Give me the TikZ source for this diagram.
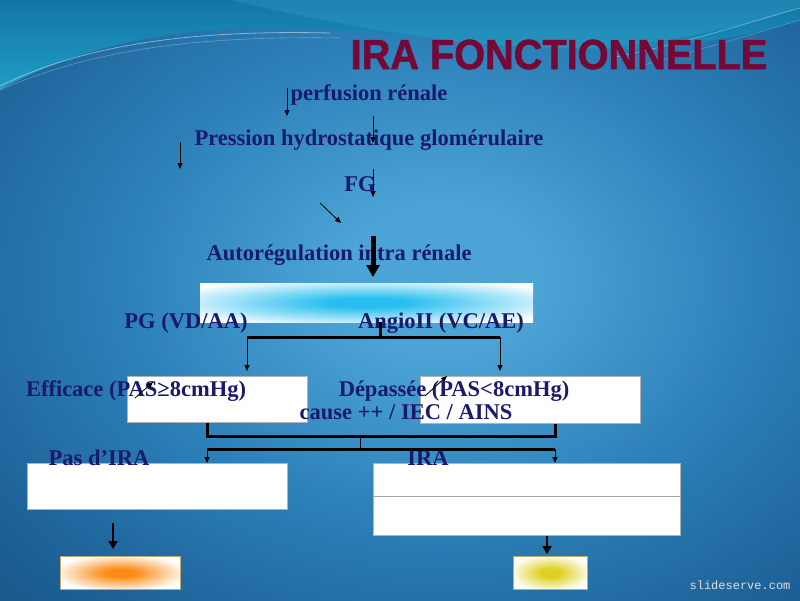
\documentclass[tikz,border=0pt]{standalone}
\usepackage{fontspec}
\setmainfont{Liberation Serif}
\newfontfamily\titlefont[FakeBold=1.5]{Liberation Sans Bold}
\newfontfamily\markfont{Liberation Mono}
\usetikzlibrary{arrows.meta}
\definecolor{txt}{RGB}{26,26,108}
\definecolor{titlecol}{RGB}{118,8,55}
\definecolor{bgA}{RGB}{76,164,214}
\definecolor{bgB}{RGB}{44,128,184}
\definecolor{bgC}{RGB}{28,96,150}
\definecolor{bgD}{RGB}{20,74,122}
\definecolor{bgE}{RGB}{14,58,100}
\definecolor{tealtop}{RGB}{20,118,166}
\definecolor{tealbot}{RGB}{30,158,196}
\definecolor{glow}{RGB}{40,190,240}
\definecolor{orangeglow}{RGB}{250,140,20}
\definecolor{yellowglow}{RGB}{222,208,30}
\definecolor{tanedge}{RGB}{190,170,110}
\pgfdeclareradialshading{bgsh}{\pgfpoint{0bp}{0bp}}{color(0bp)=(bgA); color(3bp)=(bgA); color(10bp)=(bgB); color(17bp)=(bgC); color(24bp)=(bgD); color(32bp)=(bgE); color(50bp)=(bgE)}
\pgfdeclareradialshading{cyansh}{\pgfpoint{0bp}{0bp}}{color(0bp)=(glow); color(6bp)=(glow); color(32bp)=(white); color(50bp)=(white)}
\pgfdeclareradialshading{orangesh}{\pgfpoint{0bp}{0bp}}{color(0bp)=(orangeglow); color(6bp)=(orangeglow); color(28bp)=(white); color(50bp)=(white)}
\pgfdeclareradialshading{yellowsh}{\pgfpoint{0bp}{0bp}}{color(0bp)=(yellowglow); color(6bp)=(yellowglow); color(28bp)=(white); color(50bp)=(white)}
\tikzset{
  lbl/.style={anchor=base, text=txt, font=\bfseries\fontsize{22.5}{26}\selectfont, inner sep=0pt},
  thinarrow/.style={-{Triangle[length=6pt,width=5pt]}, line width=0.8pt, black},
  bigarrow/.style={-{Triangle[length=12pt,width=13pt]}, line width=5pt, black},
  medarrow/.style={-{Triangle[length=8pt,width=9pt]}, line width=2.5pt, black},
  thickline/.style={line width=3pt, black},
  wbox/.style={draw=gray!60, fill=white, line width=0.7pt, anchor=north west, inner sep=0pt},
  gbox/.style={draw=none, anchor=north west, inner sep=0pt},
}
\begin{document}
\begin{tikzpicture}[x=1pt,y=-1pt]
\useasboundingbox (0,0) rectangle (800,600);
% background
\begin{scope}
\clip (0,0) rectangle (800,600);
\shade[shading=bgsh] (-360,-320) rectangle (1240,880);
\shade[top color=tealtop, bottom color=tealbot] (0,0) -- (0,90) .. controls (80,45) and (180,25) .. (300,28) .. controls (420,32) and (520,50) .. (600,50) .. controls (700,48) and (770,30) .. (800,20) -- (800,0) -- cycle;
\fill[cyan!60!white, opacity=0.15] (230,0) .. controls (360,30) and (480,50) .. (590,48) .. controls (680,44) and (760,20) .. (800,8) -- (800,0) -- cycle;
\draw[white, opacity=0.45, line width=0.8pt] (0,86) .. controls (90,42) and (200,30) .. (330,33);
\draw[white, opacity=0.3, line width=0.6pt] (0,90) .. controls (100,46) and (210,36) .. (340,38);
\draw[white, opacity=0.35, line width=0.8pt] (610,58) .. controls (680,45) and (750,22) .. (800,8);
\draw[white, opacity=0.25, line width=0.6pt] (640,66) .. controls (700,50) and (760,32) .. (800,20);
\end{scope}
% title
\node (title) [anchor=base, inner sep=0pt, text=titlecol, font=\titlefont\fontsize{42}{46}\selectfont, xscale=0.945] at (559,69) {IRA FONCTIONNELLE};
% boxes
\node (gb) [gbox, shading=cyansh, minimum width=333pt, minimum height=39pt] at (200,283) {};
\node (b1) [wbox, minimum width=180pt, minimum height=46pt] at (127,376) {};
\node (b2) [wbox, minimum width=220pt, minimum height=47pt] at (420,376) {};
\node (b3) [wbox, minimum width=260pt, minimum height=46pt] at (27,463) {};
\node (b4) [wbox, minimum width=307pt, minimum height=72pt] at (373,463) {};
\draw[gray!70, line width=1pt] (b4.west |- 0,496) -- (b4.east |- 0,496);
\node (ob) [gbox, shading=orangesh, draw=tanedge, line width=0.8pt, minimum width=120pt, minimum height=33pt] at (60,556) {};
\node (yb) [gbox, shading=yellowsh, draw=tanedge, line width=0.8pt, minimum width=74pt, minimum height=33pt] at (513,556) {};
% coordinates
\coordinate (a1s) at (287,88);  \coordinate (a1e) at (287,116);
\coordinate (a2s) at (373,116); \coordinate (a2e) at (373,143);
\coordinate (a3s) at (180,142); \coordinate (a3e) at (180,169);
\coordinate (a4s) at (373,169); \coordinate (a4e) at (373,197);
\coordinate (a5s) at (320,203); \coordinate (a5e) at (341,223);
\coordinate (a6s) at (373,236); \coordinate (a6e) at (373,277);
\coordinate (h1) at (380,337);
\coordinate (hl) at (247,337);
\coordinate (hr) at (500,337);
\coordinate (j1) at (207,436);
\coordinate (j2) at (555,436);
\coordinate (jm) at (360,436);
\coordinate (k1) at (207,449);
\coordinate (k2) at (555,449);
\coordinate (km) at (360,449);
\coordinate (dl) at (113,0);
\coordinate (dr) at (547,0);
\coordinate (s1s) at (135,398); \coordinate (s1e) at (153,382);
\coordinate (s2s) at (425,396); \coordinate (s2e) at (447,376);
% texts
\node (t1) [lbl] at (369,100) {perfusion rénale};
\node (t2) [lbl] at (369,145) {Pression hydrostatique glomérulaire};
\node (t3) [lbl] at (360,191) {FG};
\node (t4) [lbl] at (339,260) {Autorégulation intra rénale};
\node (t5) [lbl] at (186,328) {PG (VD/AA)};
\node (t6) [lbl] at (441,328) {AngioII (VC/AE)};
\node (t7) [lbl] at (136,396) {Efficace (PAS≥8cmHg)};
\node (t8) [lbl] at (454,396) {Dépassée (PAS<8cmHg)};
\node (t9) [lbl] at (406,419) {cause ++ / IEC / AINS};
\node (t10) [lbl] at (99,465) {Pas d’IRA};
\node (t11) [lbl] at (428,465) {IRA};
\node (wm) [anchor=base, inner sep=0pt, text=gray!25, font=\markfont\fontsize{12}{14}\selectfont] at (740,589) {slideserve.com};
% arrows
\draw[thinarrow] (a1s) -- (a1e);
\draw[thinarrow] (a2s) -- (a2e);
\draw[thinarrow] (a3s) -- (a3e);
\draw[thinarrow] (a4s) -- (a4e);
\draw[thinarrow] (a5s) -- (a5e);
\draw[bigarrow] (a6s) -- (a6e);
\draw[thickline] (gb.south -| h1) -- (h1);
\draw[thickline] (hl) -- (hr);
\draw[thinarrow, shorten >=5pt] (hl) -- (hl |- b1.north);
\draw[thinarrow, shorten >=5pt] (hr) -- (hr |- b2.north);
\draw[thickline] (b1.south -| j1) -- (j1) -- (j2) -- (b2.south -| j2);
\draw[line width=1pt] (jm) -- (km);
\draw[thickline] (k1) -- (k2);
\draw[thinarrow] (k1) -- (k1 |- b3.north);
\draw[thinarrow] (k2) -- (k2 |- b4.north);
\draw[medarrow, shorten <=13pt, shorten >=7pt] (b3.south -| dl) -- (dl |- ob.north);
\draw[medarrow, shorten >=2pt] (b4.south -| dr) -- (dr |- yb.north);
\draw[thinarrow] (s1s) -- (s1e);
\draw[thinarrow] (s2s) -- (s2e);
\end{tikzpicture}
\end{document}
